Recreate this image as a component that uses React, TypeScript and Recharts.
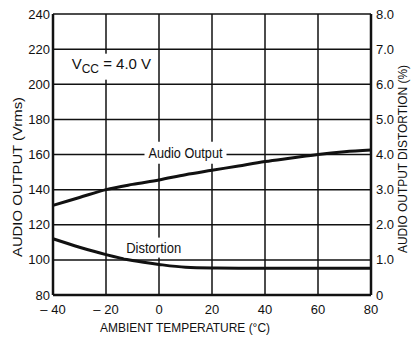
import { ComposedChart, Line, XAxis, YAxis, CartesianGrid, ReferenceDot } from "recharts";

const FONT = "'Liberation Sans', Arial, sans-serif";
const INK = "#111";

const temps = [-40, -30, -20, -10, 0, 10, 20, 30, 40, 50, 60, 70, 80];
const audioOutput = [131, 135.5, 140, 143, 145.5, 148.5, 151, 153.5, 156, 158, 160, 161.5, 162.5];
const distortion = [1.6, 1.36, 1.15, 0.98, 0.87, 0.79, 0.77, 0.765, 0.765, 0.765, 0.76, 0.76, 0.76];

const xTicks = [-40, -20, 0, 20, 40, 60, 80];
const leftTicks = [80, 100, 120, 140, 160, 180, 200, 220, 240];
const rightTicks = [0, 1, 2, 3, 4, 5, 6, 7, 8];

const data = temps.map((t, i) => ({ t, audio: audioOutput[i], dist: distortion[i] }));

const xLabel = (v: number) => (v < 0 ? `– ${Math.abs(v)}` : `${v}`);
const rightLabel = (v: number) => (v === 0 ? "0" : v.toFixed(1));

const tickStyle = { fontFamily: FONT, fontSize: 13, fill: INK };

// axis titles squeezed to the reference's narrow type
function title(text: string, x: number, y: number, len: number, rotate = false) {
  return () => (
    <text
      x={x}
      y={y}
      textAnchor="middle"
      dominantBaseline="central"
      fontFamily={FONT}
      fontSize={13}
      fill={INK}
      textLength={len}
      lengthAdjust="spacingAndGlyphs"
      transform={rotate ? `rotate(-90 ${x} ${y})` : undefined}
    >
      {text}
    </text>
  );
}

function boxLabel(text: string, w: number, h: number, len: number) {
  return (p: any) => (
    <g>
      <rect x={p.cx - w / 2} y={p.cy - h / 2} width={w} height={h} fill="#fff" />
      <text
        x={p.cx}
        y={p.cy + 5}
        textAnchor="middle"
        fontFamily={FONT}
        fontSize={14}
        fill={INK}
        textLength={len}
        lengthAdjust="spacingAndGlyphs"
      >
        {text}
      </text>
    </g>
  );
}

function vccLabel(p: any) {
  return (
    <g>
      <rect x={p.cx - 40} y={p.cy - 13} width={80} height={26} fill="#fff" />
      <text x={p.cx - 37} y={p.cy + 2} fontFamily={FONT} fontSize={15} fill={INK}>
        V
        <tspan fontSize={12} dy={4}>CC</tspan>
        <tspan fontSize={15} dy={-4}> = 4.0 V</tspan>
      </text>
    </g>
  );
}

export default function App() {
  return (
    <div style={{ position: "absolute", left: 0, top: 0, background: "#fff" }}>
      <ComposedChart width={413} height={337} data={data} margin={{ top: 14, right: 0, bottom: 0, left: 0 }}>
        <CartesianGrid yAxisId="l" stroke={INK} strokeWidth={1.5} />
        <XAxis
          dataKey="t"
          type="number"
          domain={[-40, 80]}
          ticks={xTicks}
          tickFormatter={xLabel}
          tickLine={false}
          tickSize={0}
          axisLine={{ stroke: INK, strokeWidth: 2.5 }}
          height={42}
          tick={tickStyle}
          tickMargin={10}
          label={{ content: title("AMBIENT TEMPERATURE (°C)", 185, 327, 170) }}
        />
        <YAxis
          yAxisId="l"
          domain={[80, 240]}
          ticks={leftTicks}
          tickLine={false}
          tickSize={0}
          axisLine={{ stroke: INK, strokeWidth: 2.5 }}
          width={53}
          tickMargin={3}
          tick={tickStyle}
          label={{ content: title("AUDIO OUTPUT (Vrms)", 17, 177, 160, true) }}
        />
        <YAxis
          yAxisId="r"
          orientation="right"
          domain={[0, 8]}
          ticks={rightTicks}
          tickFormatter={rightLabel}
          tickLine={false}
          tickSize={0}
          axisLine={{ stroke: INK, strokeWidth: 2.5 }}
          width={42}
          tickMargin={5}
          tick={tickStyle}
          label={{ content: title("AUDIO OUTPUT DISTORTION (%)", 402, 159, 188, true) }}
        />
        <ReferenceDot yAxisId="l" x={-19} y={210} r={0} shape={vccLabel} />
        <ReferenceDot yAxisId="l" x={10} y={161} r={0} shape={boxLabel("Audio Output", 82, 22, 74)} />
        <ReferenceDot yAxisId="l" x={-2} y={107} r={0} shape={boxLabel("Distortion", 60, 20, 55)} />
        <Line yAxisId="l" dataKey="audio" type="monotone" stroke={INK} strokeWidth={3} dot={false} isAnimationActive={false} />
        <Line yAxisId="r" dataKey="dist" type="monotone" stroke={INK} strokeWidth={3} dot={false} isAnimationActive={false} />
      </ComposedChart>
    </div>
  );
}
